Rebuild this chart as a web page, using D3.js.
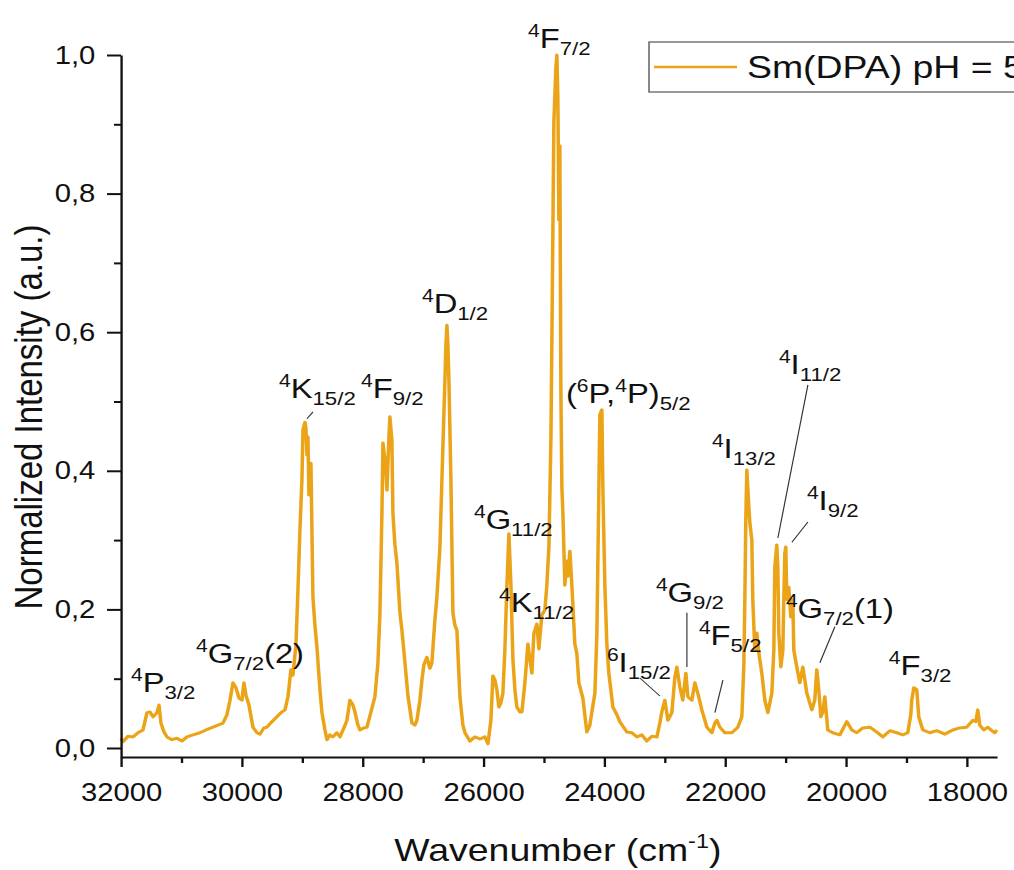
<!DOCTYPE html>
<html>
<head>
<meta charset="utf-8">
<script src="https://cdn.jsdelivr.net/npm/d3@7"></script>
<style>
html, body { margin: 0; padding: 0; background: #fff; overflow: hidden; }
svg { display: block; }
text { font-family: "Liberation Sans", Arial, sans-serif; fill: #111; }
</style>
</head>
<body>
<svg id="chart"></svg>
<script>
// spectrum (cm-1, normalized intensity)
const wavenumber = [32000,31967,31884,31801,31719,31636,31570,31520,31470,31404,31371,31338,31288,31239,31156,31073,30991,30908,30809,30693,30593,30478,30395,30312,30246,30196,30147,30097,30047,29998,29965,29931,29882,29816,29749,29700,29634,29584,29501,29419,29352,29286,29236,29187,29154,29104,29071,29038,29005,28988,28955,28939,28922,28906,28889,28856,28823,28790,28757,28707,28674,28624,28591,28541,28492,28426,28376,28310,28260,28211,28161,28128,28078,28045,27979,27929,27863,27797,27747,27714,27681,27664,27631,27615,27598,27565,27549,27516,27499,27466,27433,27383,27350,27300,27251,27185,27135,27102,27052,27019,26986,26936,26887,26854,26804,26771,26721,26672,26638,26622,26605,26589,26572,26539,26506,26473,26440,26390,26341,26307,26225,26142,26059,25977,25927,25877,25844,25811,25778,25745,25712,25679,25646,25612,25579,25546,25513,25480,25447,25397,25364,25315,25265,25232,25199,25166,25116,25083,25034,24984,24951,24917,24884,24868,24835,24802,24785,24769,24752,24736,24719,24702,24686,24653,24620,24603,24570,24537,24488,24454,24421,24355,24289,24239,24206,24156,24123,24090,24074,24040,24024,23991,23958,23925,23858,23792,23743,23627,23544,23461,23379,23296,23213,23130,23081,23048,22998,22948,22882,22832,22799,22750,22700,22650,22617,22551,22501,22452,22386,22303,22220,22170,22137,22088,22005,21889,21790,21724,21691,21674,21657,21641,21608,21591,21558,21542,21509,21476,21442,21393,21343,21293,21227,21194,21178,21145,21128,21112,21078,21045,21029,21012,20996,20979,20946,20913,20880,20863,20814,20764,20714,20648,20565,20516,20483,20450,20416,20383,20350,20301,20218,20102,19986,19903,19821,19721,19605,19489,19390,19274,19158,19060,18977,18927,18911,18877,18828,18795,18729,18613,18497,18364,18232,18116,18000,17901,17851,17818,17785,17719,17653,17587,17537,17504]
const intensity = [0.014,0.009,0.017,0.016,0.022,0.026,0.051,0.052,0.045,0.051,0.062,0.036,0.023,0.016,0.012,0.014,0.010,0.016,0.019,0.022,0.026,0.030,0.033,0.036,0.048,0.069,0.094,0.087,0.072,0.069,0.094,0.076,0.062,0.030,0.022,0.020,0.029,0.030,0.038,0.045,0.051,0.055,0.074,0.113,0.105,0.149,0.228,0.315,0.387,0.459,0.470,0.462,0.423,0.449,0.365,0.411,0.218,0.177,0.146,0.084,0.051,0.026,0.012,0.019,0.016,0.022,0.016,0.029,0.040,0.069,0.062,0.052,0.033,0.026,0.029,0.030,0.052,0.074,0.123,0.195,0.339,0.440,0.416,0.397,0.372,0.449,0.478,0.444,0.339,0.293,0.267,0.195,0.170,0.123,0.076,0.036,0.033,0.040,0.069,0.098,0.120,0.131,0.115,0.123,0.185,0.218,0.290,0.434,0.531,0.582,0.610,0.582,0.531,0.387,0.195,0.177,0.170,0.074,0.033,0.022,0.010,0.016,0.013,0.016,0.006,0.040,0.104,0.098,0.084,0.059,0.065,0.079,0.141,0.235,0.309,0.235,0.128,0.084,0.059,0.052,0.052,0.094,0.150,0.128,0.108,0.165,0.179,0.143,0.192,0.199,0.235,0.291,0.446,0.587,0.903,0.981,1.000,0.938,0.762,0.869,0.517,0.375,0.341,0.235,0.270,0.248,0.284,0.235,0.150,0.136,0.094,0.072,0.023,0.033,0.052,0.079,0.165,0.375,0.481,0.488,0.375,0.235,0.150,0.108,0.059,0.048,0.038,0.023,0.022,0.016,0.019,0.010,0.017,0.016,0.036,0.052,0.069,0.040,0.051,0.102,0.117,0.088,0.069,0.108,0.074,0.069,0.094,0.079,0.055,0.030,0.022,0.036,0.040,0.030,0.022,0.022,0.030,0.045,0.117,0.214,0.333,0.401,0.348,0.325,0.300,0.214,0.141,0.166,0.137,0.108,0.069,0.051,0.079,0.141,0.261,0.293,0.261,0.166,0.117,0.141,0.214,0.281,0.290,0.214,0.232,0.189,0.214,0.141,0.117,0.094,0.117,0.079,0.055,0.069,0.113,0.084,0.045,0.052,0.074,0.026,0.022,0.019,0.038,0.026,0.022,0.029,0.030,0.023,0.016,0.025,0.022,0.019,0.022,0.048,0.069,0.087,0.084,0.045,0.026,0.022,0.025,0.020,0.026,0.029,0.030,0.040,0.038,0.055,0.033,0.026,0.030,0.025,0.022,0.026]

// axis ticks
const xMajorTicks = [32000, 30000, 28000, 26000, 24000, 22000, 20000, 18000]
const xMinorTicks = [31000, 29000, 27000, 25000, 23000, 21000, 19000]
const yMajorTicks = [0, 0.2, 0.4, 0.6, 0.8, 1.0]
const yMinorTicks = [0.1, 0.3, 0.5, 0.7, 0.9]

// level labels: {sup} [sub], anchored at left edge / baseline
const levelNames = ['{4}P[3/2]', '{4}G[7/2](2)', '{4}K[15/2]', '{4}F[9/2]', '{4}D[1/2]', '{4}F[7/2]',
  '{4}G[11/2]', '{4}K[11/2]', '({6}P,{4}P)[5/2]', '{6}I[15/2]', '{4}G[9/2]', '{4}F[5/2]',
  '{4}I[13/2]', '{4}I[11/2]', '{4}I[9/2]', '{4}G[7/2](1)', '{4}F[3/2]']
const levelWn = [31835, 30759, 29385, 28028, 27019, 25264, 26158, 25744, 24636, 23957, 23146, 22434,
  22219, 21110, 20647, 20994, 19290]
const levelInt = [0.081, 0.123, 0.505, 0.505, 0.628, 1.010, 0.316, 0.196, 0.498, 0.110, 0.211, 0.149,
  0.418, 0.540, 0.343, 0.188, 0.105]

// leader lines [wn1, int1, wn2, int2]
const leaders = [
  [28822, 0.485, 28922, 0.475],
  [23411, 0.101, 23080, 0.075],
  [22633, 0.195, 22633, 0.117],
  [22037, 0.098, 22169, 0.051],
  [20630, 0.524, 21127, 0.303],
  [20630, 0.326, 20895, 0.297],
  [20184, 0.175, 20432, 0.123]
]

const seriesName = 'Sm(DPA) pH = 5'
const lineColor = '#EBA418'

const drawChart = () => {

    // the picture is drawn in a narrower box and stretched sideways to the window
    const outerW = 1014
    const outerH = 870
    const innerW = 867
    const sx = outerW / innerW

    const svg = d3.select('#chart')
        .attr('width', outerW)
        .attr('height', outerH)
        .attr('viewBox', `0 0 ${innerW} ${outerH}`)
        .attr('preserveAspectRatio', 'none')

    const yMin = -0.013

    const xScale = d3.scaleLinear()
        .domain([32000, 17500])
        .range([121 / sx, 997 / sx])

    const yScale = d3.scaleLinear()
        .domain([yMin, 1.0])
        .range([757, 55])

    const comma = v => d3.format('.1f')(v).replace('.', ',')

    // spectrum
    const points = d3.zip(wavenumber, intensity)

    const line = d3.line()
        .x(d => xScale(d[0]))
        .y(d => yScale(d[1]))

    svg.append('path')
        .datum(points)
        .attr('d', line)
        .attr('fill', 'none')
        .attr('stroke', lineColor)
        .attr('stroke-width', 3)
        .attr('stroke-linejoin', 'round')

    // axes
    const xAxisY = yScale(yMin)
    const x0 = xScale.range()[0]

    svg.append('g')
        .attr('transform', `translate(0,${xAxisY})`)
        .call(d3.axisBottom(xScale).tickValues(xMajorTicks).tickSize(10).tickSizeOuter(0)
            .tickPadding(16).tickFormat(d3.format('d')))

    svg.append('g')
        .attr('transform', `translate(0,${xAxisY})`)
        .call(d3.axisBottom(xScale).tickValues(xMinorTicks).tickSize(6).tickSizeOuter(0).tickFormat(''))
        .call(g => g.select('.domain').remove())

    svg.append('g')
        .attr('transform', `translate(${x0},0)`)
        .call(d3.axisLeft(yScale).tickValues(yMajorTicks).tickSize(12).tickSizeOuter(0)
            .tickPadding(10).tickFormat(comma))

    svg.append('g')
        .attr('transform', `translate(${x0},0)`)
        .call(d3.axisLeft(yScale).tickValues(yMinorTicks).tickSize(6).tickSizeOuter(0).tickFormat(''))
        .call(g => g.select('.domain').remove())

    svg.selectAll('.domain, .tick line')
        .attr('stroke', '#111')
        .attr('stroke-width', 2)

    svg.selectAll('.tick text')
        .attr('font-size', 25)
        .attr('font-family', '"Liberation Sans", Arial, sans-serif')
        .attr('fill', '#111')

    // axis titles
    svg.append('text')
        .attr('transform', `translate(36,417) rotate(-90)`)
        .attr('text-anchor', 'middle')
        .attr('font-size', 33)
        .text('Normalized Intensity (a.u.)')

    const xTitle = svg.append('text')
        .attr('x', 477)
        .attr('y', 861)
        .attr('text-anchor', 'middle')
        .attr('font-size', 32)
    xTitle.append('tspan').text('Wavenumber (cm')
    xTitle.append('tspan').attr('font-size', 20).attr('dy', -13).text('-1')
    xTitle.append('tspan').attr('dy', 13).text(')')

    // leader lines
    svg.selectAll('.leader')
        .data(leaders)
        .enter()
        .append('line')
        .attr('class', 'leader')
        .attr('x1', d => xScale(d[0]))
        .attr('y1', d => yScale(d[1]))
        .attr('x2', d => xScale(d[2]))
        .attr('y2', d => yScale(d[3]))
        .attr('stroke', '#333')
        .attr('stroke-width', 1)

    // level labels with super/subscripts
    const shift = { sup: -11, sub: 7, main: 0 }
    const size = { sup: 18, sub: 19, main: 28 }

    const parse = s => {
        const parts = []
        const re = /\{([^}]*)\}|\[([^\]]*)\]|([^{\[]+)/g
        let m
        while ((m = re.exec(s)) !== null) {
            if (m[1] !== undefined) parts.push({ t: m[1], k: 'sup' })
            else if (m[2] !== undefined) parts.push({ t: m[2], k: 'sub' })
            else parts.push({ t: m[3], k: 'main' })
        }
        return parts
    }

    levelNames.forEach((name, i) => {
        const txt = svg.append('text')
            .attr('x', xScale(levelWn[i]))
            .attr('y', yScale(levelInt[i]))
            .attr('font-size', 28)
        let cur = 0
        parse(name).forEach(p => {
            txt.append('tspan')
                .attr('font-size', size[p.k])
                .attr('dy', shift[p.k] - cur)
                .text(p.t)
            cur = shift[p.k]
        })
    })

    // legend
    const lg = svg.append('g')
    lg.append('rect')
        .attr('x', 649 / sx)
        .attr('y', 42)
        .attr('width', 400)
        .attr('height', 50)
        .attr('fill', '#fff')
        .attr('stroke', '#555')
        .attr('stroke-width', 1.2)
    lg.append('line')
        .attr('x1', 654 / sx)
        .attr('x2', 737 / sx)
        .attr('y1', 67)
        .attr('y2', 67)
        .attr('stroke', lineColor)
        .attr('stroke-width', 2.6)
    lg.append('text')
        .attr('x', 747 / sx)
        .attr('y', 78)
        .attr('font-size', 32)
        .text(seriesName)

}

drawChart()
</script>
</body>
</html>
